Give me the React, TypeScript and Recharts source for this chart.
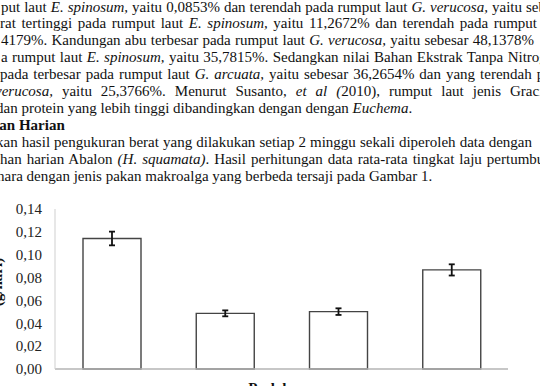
import { Bar, BarChart, ErrorBar, XAxis, YAxis } from 'recharts'

const treatments = ['P1', 'P2', 'P3', 'P4']
const growth = [0.1142, 0.0487, 0.0502, 0.0867]
const growthSd = [0.006, 0.0026, 0.0029, 0.0049]
const yTicks = [0, 0.02, 0.04, 0.06, 0.08, 0.1, 0.12, 0.14]

const chartData = treatments.map((name, i) => ({
  name,
  value: growth[i],
  err: growthSd[i],
}))

const serif = '"Liberation Serif", "Times New Roman", serif'

type LineProps = {
  top: number
  left: number
  width?: number
  bold?: boolean
  children: React.ReactNode
}

const TextLine = ({ top, left, width, bold, children }: LineProps) => (
  <div
    style={{
      position: 'absolute',
      top,
      left,
      width,
      whiteSpace: 'nowrap',
      textAlign: width ? 'justify' : 'left',
      textAlignLast: width ? 'justify' : 'auto',
      fontWeight: bold ? 'bold' : 'normal',
      lineHeight: '17px',
    }}
  >
    {children}
  </div>
)

export default function App() {
  return (
    <div
      style={{
        position: 'absolute',
        left: 0,
        top: 0,
        width: 540,
        height: 386,
        overflow: 'hidden',
        background: '#fff',
        fontFamily: serif,
        fontSize: 15,
        color: '#111',
      }}
    >
      <TextLine top={-1} left={1} width={545}>
        put laut <i>E. spinosum,</i> yaitu 0,0853% dan terendah pada rumput laut <i>G. verucosa,</i> yaitu seb
      </TextLine>
      <TextLine top={15} left={0} width={537}>
        rat tertinggi pada rumput laut <i>E. spinosum,</i> yaitu 11,2672% dan terendah pada rumput
      </TextLine>
      <TextLine top={32} left={1} width={533}>
        4179%. Kandungan abu terbesar pada rumput laut <i>G. verucosa,</i> yaitu sebesar 48,1378%
      </TextLine>
      <TextLine top={49} left={1} width={560}>
        a rumput laut <i>E. spinosum,</i> yaitu 35,7815%. Sedangkan nilai Bahan Ekstrak Tanpa Nitrogen
      </TextLine>
      <TextLine top={66} left={0} width={565}>
        pada terbesar pada rumput laut <i>G. arcuata,</i> yaitu sebesar 36,2654% dan yang terendah pada
      </TextLine>
      <TextLine top={83} left={-5} width={575}>
        <i>verucosa,</i> yaitu 25,3766%. Menurut Susanto, <i>et al (</i>2010), rumput laut jenis Gracilaria
      </TextLine>
      <TextLine top={100} left={-4}>
        dan protein yang lebih tinggi dibandingkan dengan dengan <i>Euchema</i>.
      </TextLine>
      <TextLine top={117} left={-9} bold>
        han Harian
      </TextLine>
      <TextLine top={134} left={-4} width={536}>
        kan hasil pengukuran berat yang dilakukan setiap 2 minggu sekali diperoleh data dengan
      </TextLine>
      <TextLine top={151} left={0} width={566}>
        han harian Abalon <i>(H. squamata)</i>. Hasil perhitungan data rata-rata tingkat laju pertumbuhan
      </TextLine>
      <TextLine top={168} left={-3}>
        hara dengan jenis pakan makroalga yang berbeda tersaji pada Gambar 1.
      </TextLine>

      <div
        style={{
          position: 'absolute',
          left: -3,
          top: 282,
          transform: 'translate(-50%, -50%) rotate(-90deg)',
          fontWeight: 'bold',
          whiteSpace: 'nowrap',
        }}
      >
        (g/hari)
      </div>

      <div style={{ position: 'absolute', left: 0, top: 0 }}>
        <BarChart
          width={540}
          height={386}
          data={chartData}
          margin={{ top: 209, right: 32, bottom: 0, left: 0 }}
          barSize={58}
        >
          <XAxis
            dataKey="name"
            tick={false}
            tickLine={false}
            axisLine={{ stroke: '#b4b4b4', strokeWidth: 1.5 }}
            height={17}
          />
          <YAxis
            width={55}
            domain={[0, 0.14]}
            ticks={yTicks}
            interval={0}
            tickLine={false}
            tickSize={0}
            tickMargin={13}
            axisLine={{ stroke: '#cfcfcf', strokeWidth: 1 }}
            tick={{ fill: '#222', fontFamily: serif, fontSize: 15 }}
            tickFormatter={(v: number) => v.toFixed(2).replace('.', ',')}
          />
          <Bar
            dataKey="value"
            fill="#fff"
            stroke="#444"
            strokeWidth={1.4}
            isAnimationActive={false}
          >
            <ErrorBar dataKey="err" width={3} stroke="#111" strokeWidth={1.8} />
          </Bar>
        </BarChart>
      </div>

      <div
        style={{
          position: 'absolute',
          left: 281.5,
          top: 380,
          transform: 'translateX(-50%)',
          fontWeight: 'bold',
          whiteSpace: 'nowrap',
          lineHeight: '17px',
        }}
      >
        Perlakuan
      </div>
    </div>
  )
}
